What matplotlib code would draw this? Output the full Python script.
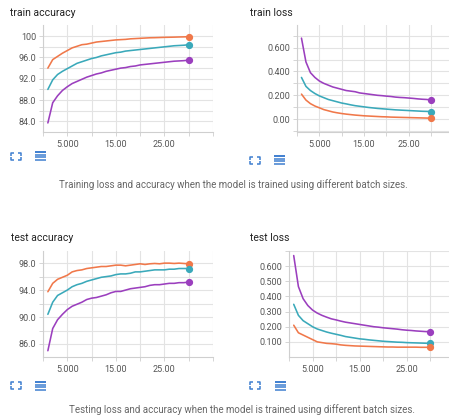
import matplotlib
matplotlib.use("Agg")
import matplotlib.pyplot as plt
from matplotlib.lines import Line2D
from matplotlib.ticker import FixedLocator

plt.rcParams['font.family'] = ['Roboto', 'DejaVu Sans']

epochs = list(range(1, 31))

train_acc_orange = [94.0, 95.6, 96.2, 96.8, 97.3, 97.8, 98.1, 98.4, 98.5, 98.7, 98.9, 99.0, 99.1, 99.2, 99.3,
                    99.35, 99.4, 99.5, 99.55, 99.6, 99.65, 99.7, 99.72, 99.75, 99.78, 99.8, 99.82, 99.85, 99.87, 99.9]
train_acc_teal = [90.0, 91.8, 92.8, 93.4, 93.9, 94.4, 94.9, 95.2, 95.5, 95.8, 96.0, 96.3, 96.5, 96.7, 96.9,
                  97.0, 97.2, 97.3, 97.4, 97.5, 97.6, 97.7, 97.8, 97.9, 98.0, 98.1, 98.2, 98.25, 98.3, 98.4]
train_acc_purple = [83.7, 87.5, 88.8, 89.8, 90.5, 91.1, 91.5, 91.9, 92.3, 92.6, 92.9, 93.1, 93.4, 93.6, 93.8,
                    94.0, 94.1, 94.3, 94.4, 94.6, 94.7, 94.8, 94.9, 95.0, 95.1, 95.2, 95.3, 95.35, 95.4, 95.5]

train_loss_purple = [0.68, 0.48, 0.39, 0.35, 0.32, 0.30, 0.285, 0.27, 0.26, 0.25, 0.24, 0.235, 0.23, 0.22, 0.215,
                     0.21, 0.205, 0.20, 0.197, 0.193, 0.19, 0.185, 0.182, 0.18, 0.177, 0.174, 0.17, 0.167, 0.165, 0.16]
train_loss_teal = [0.35, 0.275, 0.24, 0.215, 0.195, 0.18, 0.165, 0.155, 0.145, 0.135, 0.128, 0.12, 0.113, 0.108, 0.103,
                   0.098, 0.094, 0.09, 0.087, 0.084, 0.081, 0.078, 0.076, 0.074, 0.072, 0.07, 0.068, 0.066, 0.065, 0.063]
train_loss_orange = [0.21, 0.16, 0.13, 0.11, 0.095, 0.08, 0.07, 0.06, 0.053, 0.047, 0.042, 0.038, 0.034, 0.031, 0.028,
                     0.026, 0.024, 0.022, 0.02, 0.019, 0.017, 0.016, 0.015, 0.014, 0.013, 0.012, 0.011, 0.01, 0.009, 0.008]

test_acc_orange = [93.75, 95.0, 95.6, 95.9, 96.2, 96.7, 96.9, 97.0, 97.2, 97.3, 97.4, 97.5, 97.5, 97.6, 97.7,
                   97.7, 97.6, 97.7, 97.8, 97.9, 97.8, 97.9, 97.95, 97.9, 98.0, 98.0, 97.95, 98.0, 97.95, 97.9]
test_acc_teal = [90.4, 92.2, 93.2, 93.6, 94.0, 94.5, 94.8, 95.0, 95.3, 95.5, 95.7, 95.9, 96.0, 96.1, 96.3,
                 96.4, 96.4, 96.5, 96.7, 96.7, 96.8, 96.9, 97.0, 97.0, 97.0, 97.1, 97.1, 97.2, 97.2, 97.2]
test_acc_purple = [85.0, 88.3, 89.6, 90.4, 91.1, 91.6, 91.9, 92.2, 92.6, 92.8, 92.9, 93.1, 93.3, 93.6, 93.8,
                   93.8, 94.0, 94.2, 94.3, 94.4, 94.5, 94.7, 94.8, 94.8, 94.9, 95.0, 95.0, 95.1, 95.1, 95.2]

test_loss_purple = [0.67, 0.465, 0.385, 0.34, 0.31, 0.29, 0.275, 0.263, 0.252, 0.245, 0.237, 0.23, 0.225, 0.22, 0.215,
                    0.21, 0.205, 0.2, 0.197, 0.193, 0.19, 0.187, 0.184, 0.18, 0.177, 0.175, 0.172, 0.17, 0.168, 0.167]
test_loss_teal = [0.348, 0.275, 0.24, 0.22, 0.20, 0.185, 0.175, 0.165, 0.157, 0.15, 0.143, 0.135, 0.13, 0.125, 0.12,
                  0.117, 0.113, 0.11, 0.107, 0.104, 0.102, 0.1, 0.098, 0.097, 0.095, 0.094, 0.093, 0.092, 0.091, 0.09]
test_loss_orange = [0.21, 0.16, 0.145, 0.13, 0.115, 0.10, 0.095, 0.09, 0.088, 0.085, 0.08, 0.077, 0.075, 0.073, 0.072,
                    0.071, 0.07, 0.069, 0.068, 0.067, 0.066, 0.066, 0.065, 0.065, 0.065, 0.065, 0.065, 0.064, 0.064, 0.064]

x_tick_values = [5, 15, 25]
x_tick_labels = ["5.000", "15.00", "25.00"]

train_acc_ticks = [84, 88, 92, 96, 100]
train_acc_labels = ["84.0", "88.0", "92.0", "96.0", "100"]
train_loss_ticks = [0.0, 0.2, 0.4, 0.6]
train_loss_labels = ["0.00", "0.200", "0.400", "0.600"]
test_acc_ticks = [86, 90, 94, 98]
test_acc_labels = ["86.0", "90.0", "94.0", "98.0"]
test_loss_ticks = [0.1, 0.2, 0.3, 0.4, 0.5, 0.6]
test_loss_labels = ["0.100", "0.200", "0.300", "0.400", "0.500", "0.600"]

C_ORANGE = "#f0784a"
C_TEAL = "#3aa9ba"
C_PURPLE = "#9b3fbe"
GRID = "#e3e3e3"
SPINE = "#cfcfcf"
TICKTXT = "#555555"
ICON = "#3f7fd0"

W, H = 449, 416
fig = plt.figure(figsize=(W / 100, H / 100), dpi=100)
fig.patch.set_facecolor("white")


def px_axes(l, t, r, b):
    return fig.add_axes([l / W, 1 - b / H, (r - l) / W, (b - t) / H])


def style(ax, xlim, ylim, yticks, ylabels, yminor, xminor):
    ax.set_xlim(*xlim)
    ax.set_ylim(*ylim)
    ax.set_xticks(x_tick_values)
    ax.set_xticklabels(x_tick_labels)
    ax.xaxis.set_minor_locator(FixedLocator(xminor))
    ax.set_yticks(yticks)
    ax.set_yticklabels(ylabels)
    ax.yaxis.set_minor_locator(FixedLocator(yminor))
    ax.grid(True, which="both", color=GRID, linewidth=0.8)
    ax.set_axisbelow(True)
    for s in ["top", "right"]:
        ax.spines[s].set_visible(False)
    for s in ["left", "bottom"]:
        ax.spines[s].set_color(SPINE)
        ax.spines[s].set_linewidth(0.8)
    ax.tick_params(which="both", length=3, width=0.6, color=SPINE, labelsize=6.5,
                   labelcolor=TICKTXT, pad=2)
    ax.tick_params(axis="x", pad=3)


def plot_series(ax, series):
    for ys, c in series:
        ax.plot(epochs, ys, color=c, linewidth=1.15, solid_capstyle="round", clip_on=False)
        ax.plot(epochs[-1], ys[-1], "o", color=c, markersize=4.2, clip_on=False, zorder=5)


# train accuracy
ax1 = px_axes(43, 25, 213, 132)
style(ax1, (0, 35), (82, 102.1), train_acc_ticks, train_acc_labels,
      [84, 86, 88, 90, 92, 94, 96, 98, 100], [0, 10, 20, 30, 35])
plot_series(ax1, [(train_acc_orange, C_ORANGE), (train_acc_teal, C_TEAL), (train_acc_purple, C_PURPLE)])

# train loss
ax2 = px_axes(297, 25, 449, 132)
style(ax2, (0, 34), (-0.108, 0.79), train_loss_ticks, train_loss_labels,
      [-0.1, 0.1, 0.3, 0.5, 0.7], [0, 10, 20, 30])
plot_series(ax2, [(train_loss_purple, C_PURPLE), (train_loss_teal, C_TEAL), (train_loss_orange, C_ORANGE)])

# test accuracy
ax3 = px_axes(43, 251, 213, 357)
style(ax3, (0, 35), (84.07, 99.8), test_acc_ticks, test_acc_labels,
      [88, 92, 96], [0, 10, 20, 30, 35])
plot_series(ax3, [(test_acc_orange, C_ORANGE), (test_acc_teal, C_TEAL), (test_acc_purple, C_PURPLE)])

# test loss
ax4 = px_axes(289, 251, 449, 357)
style(ax4, (0, 34), (0.0, 0.70), test_loss_ticks, test_loss_labels,
      [0.7], [0, 10, 20, 30])
plot_series(ax4, [(test_loss_purple, C_PURPLE), (test_loss_teal, C_TEAL), (test_loss_orange, C_ORANGE)])


def ftext(x, y, s, **kw):
    fig.text(x / W, 1 - y / H, s, **kw)


title_kw = dict(fontsize=7.5, color="#222222", va="center", ha="left")
ftext(10, 13, "train accuracy", **title_kw)
ftext(250, 13, "train loss", **title_kw)
ftext(11, 238, "test accuracy", **title_kw)
ftext(250, 238, "test loss", **title_kw)

cap_kw = dict(fontsize=7.0, color="#666666", va="center", ha="center")
ftext(233, 185, "Training loss and accuracy when the model is trained using different batch sizes.", **cap_kw)
ftext(242, 410, "Testing loss and accuracy when the model is trained using different batch sizes.", **cap_kw)


def fline(xs, ys, **kw):
    fig.add_artist(Line2D([x / W for x in xs], [1 - y / H for y in ys],
                          transform=fig.transFigure, **kw))


def fullscreen_icon(x0, y0, w=10, h=7, a=3):
    kw = dict(color=ICON, linewidth=1.1, solid_capstyle="butt")
    x1, y1 = x0 + w, y0 + h
    fline([x0, x0, x0 + a], [y0 + a, y0, y0], **kw)
    fline([x1 - a, x1, x1], [y0, y0, y0 + a], **kw)
    fline([x0, x0, x0 + a], [y1 - a, y1, y1], **kw)
    fline([x1 - a, x1, x1], [y1, y1, y1 - a], **kw)


def list_icon(x0, y0, w=11, h=8):
    for i in range(4):
        yy = y0 + i * h / 3
        fline([x0, x0 + w], [yy, yy], color=ICON, linewidth=1.4 if i == 0 else 1.1,
              solid_capstyle="butt")


fullscreen_icon(11, 153)
list_icon(35, 152)
fullscreen_icon(250, 157)
list_icon(274, 156)
fullscreen_icon(11, 382)
list_icon(35, 382)
fullscreen_icon(250, 382)
list_icon(275, 382)

fig.savefig("out.png", dpi=100, facecolor="white")
